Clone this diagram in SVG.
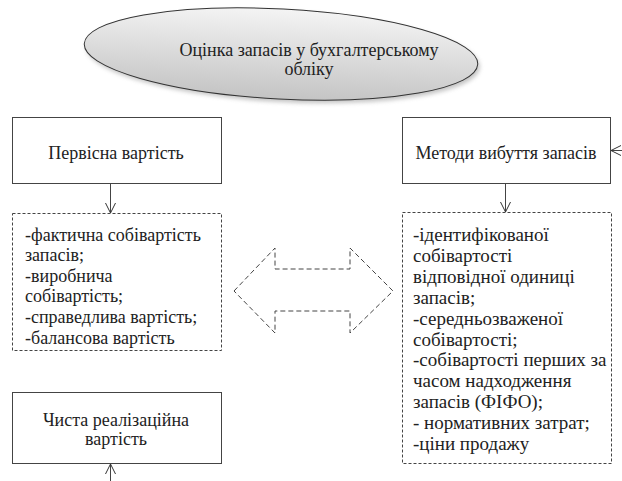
<svg xmlns="http://www.w3.org/2000/svg" width="622" height="481" viewBox="0 0 622 481">
<defs>
<linearGradient id="eg" x1="0" y1="0" x2="0" y2="1">
<stop offset="0" stop-color="#f4f4f4"/>
<stop offset="0.5" stop-color="#dcdcdc"/>
<stop offset="1" stop-color="#c4c4c4"/>
</linearGradient>
<filter id="sh" x="-10%" y="-20%" width="120%" height="160%">
<feGaussianBlur stdDeviation="2"/>
</filter>
<marker id="ah" viewBox="0 0 12 12" refX="11" refY="6" markerWidth="12" markerHeight="12" markerUnits="userSpaceOnUse" orient="auto">
<path d="M1,1 L11,6 L1,11" fill="none" stroke="#333" stroke-width="1"/>
</marker>
<style>
text{fill:#222;font-size:18px}
.r{font-size:19px}
.box{fill:#fff;stroke:#444;stroke-width:1}
.dbox{fill:#fff;stroke:#444;stroke-width:1;stroke-dasharray:3 2}
.conn{stroke:#444;stroke-width:1;fill:none;marker-end:url(#ah)}
.mid{text-anchor:middle}
</style>
</defs>
<g font-family="'Liberation Serif', 'Times New Roman', 'DejaVu Serif', serif">
<g id="title">
<ellipse cx="283" cy="57" rx="197" ry="45" transform="rotate(3 283 57)" fill="#888" opacity="0.5" filter="url(#sh)"/>
<ellipse cx="281" cy="54" rx="197" ry="45" transform="rotate(3 281 54)" fill="url(#eg)" stroke="#333" stroke-width="1"/>
<text class="mid" x="309" y="56">Оцінка запасів у бухгалтерському</text>
<text class="mid" x="309" y="75">обліку</text>
</g>
<g id="initial">
<rect class="box" x="12.5" y="117.5" width="209" height="66"/>
<text class="mid" x="116" y="159">Первісна вартість</text>
</g>
<g id="methods">
<rect class="box" x="402.5" y="117.5" width="208" height="66"/>
<text class="mid" x="506" y="159">Методи вибуття запасів</text>
</g>
<g id="initial-list">
<rect class="dbox" x="12.5" y="213.5" width="209" height="137"/>
<text x="25" y="240.5">-фактична собівартість</text>
<text x="25" y="261.1">запасів;</text>
<text x="25" y="281.7">-виробнича</text>
<text x="25" y="302.3">собівартість;</text>
<text x="25" y="322.9">-справедлива вартість;</text>
<text x="25" y="343.5">-балансова вартість</text>
</g>
<g id="methods-list">
<rect class="dbox" x="402.5" y="212.5" width="209" height="251"/>
<text class="r" x="413" y="241">-ідентифікованої</text>
<text class="r" x="413" y="261.9">собівартості</text>
<text class="r" x="413" y="282.8">відповідної одиниці</text>
<text class="r" x="413" y="303.7">запасів;</text>
<text class="r" x="413" y="324.6">-середньозваженої</text>
<text class="r" x="413" y="345.5">собівартості;</text>
<text class="r" x="413" y="366.4">-собівартості перших за</text>
<text class="r" x="413" y="387.3">часом надходження</text>
<text class="r" x="413" y="408.2">запасів (ФІФО);</text>
<text class="r" x="413" y="429.1">- нормативних затрат;</text>
<text class="r" x="413" y="450">-ціни продажу</text>
</g>
<g id="net-value">
<rect class="box" x="12.5" y="392.5" width="209" height="71"/>
<text class="mid" x="116" y="426">Чиста реалізаційна</text>
<text class="mid" x="116" y="445">вартість</text>
</g>
</g>
<g id="connectors">
<line class="conn" x1="110.5" y1="184" x2="110.5" y2="213"/>
<line class="conn" x1="505.5" y1="184" x2="505.5" y2="212"/>
<line class="conn" x1="622" y1="150.5" x2="611" y2="150.5"/>
<line class="conn" x1="110.5" y1="481" x2="110.5" y2="464"/>
<polygon points="234,291 275,248 275,269 350,269 350,248 393,291 350,333 350,311 275,311 275,333" fill="none" stroke="#444" stroke-width="1" stroke-dasharray="5 3"/>
</g>
</svg>
